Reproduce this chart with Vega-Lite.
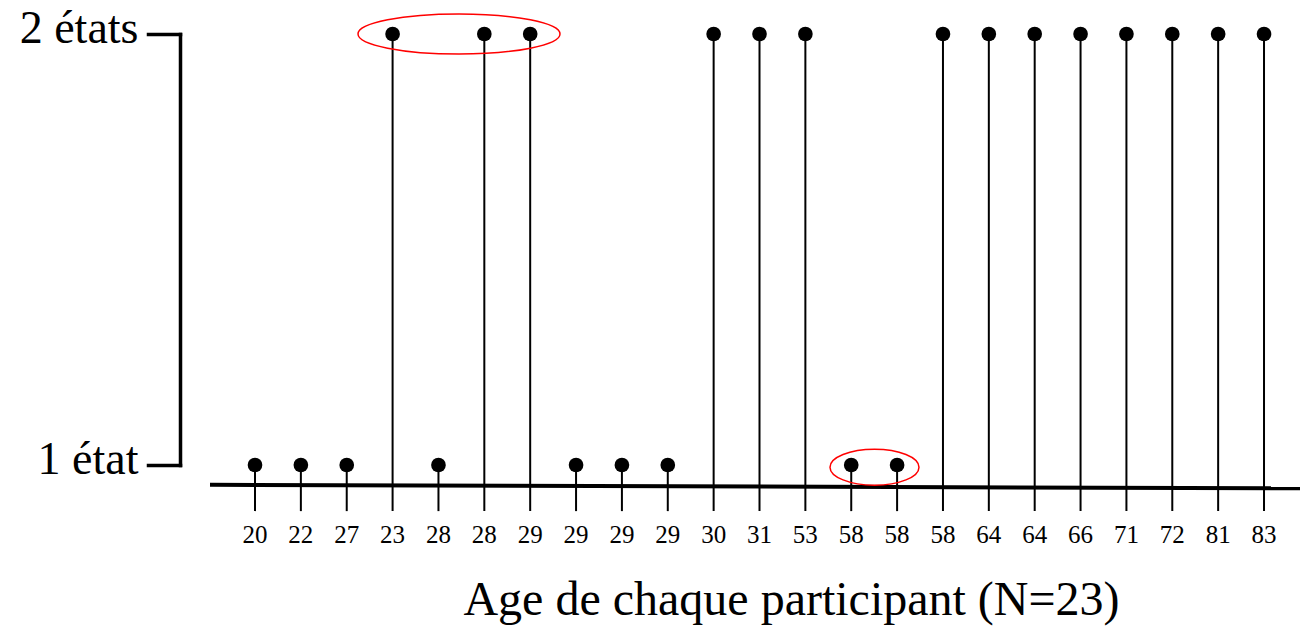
{
  "$schema": "https://vega.github.io/schema/vega-lite/v6.json",
  "autosize": {"type": "none"},
  "width": 1123,
  "height": 431,
  "padding": {"left": 180, "top": 34, "right": 0, "bottom": 162},
  "background": "white",
  "config": {"view": {"stroke": null}, "font": "Liberation Serif"},
  "datasets": {
    "participants": [
      {"idx": 1, "age": 20, "state": 1},
      {"idx": 2, "age": 22, "state": 1},
      {"idx": 3, "age": 27, "state": 1},
      {"idx": 4, "age": 23, "state": 2},
      {"idx": 5, "age": 28, "state": 1},
      {"idx": 6, "age": 28, "state": 2},
      {"idx": 7, "age": 29, "state": 2},
      {"idx": 8, "age": 29, "state": 1},
      {"idx": 9, "age": 29, "state": 1},
      {"idx": 10, "age": 29, "state": 1},
      {"idx": 11, "age": 30, "state": 2},
      {"idx": 12, "age": 31, "state": 2},
      {"idx": 13, "age": 53, "state": 2},
      {"idx": 14, "age": 58, "state": 1},
      {"idx": 15, "age": 58, "state": 1},
      {"idx": 16, "age": 58, "state": 2},
      {"idx": 17, "age": 64, "state": 2},
      {"idx": 18, "age": 64, "state": 2},
      {"idx": 19, "age": 66, "state": 2},
      {"idx": 20, "age": 71, "state": 2},
      {"idx": 21, "age": 72, "state": 2},
      {"idx": 22, "age": 81, "state": 2},
      {"idx": 23, "age": 83, "state": 2}
    ],
    "topGroup": [{"center": 5.448, "level": 2.0}],
    "bottomGroup": [{"center": 14.507, "level": 0.995}]
  },
  "layer": [
    {
      "data": {"name": "participants"},
      "mark": {"type": "rule", "color": "black", "strokeWidth": 2},
      "encoding": {
        "x": {
          "field": "idx", "type": "quantitative",
          "scale": {"domain": [-0.6353, 23.85], "nice": false, "zero": false},
          "axis": {
            "labels": false, "ticks": false, "domain": false, "grid": false,
            "title": "Age de chaque participant (N=23)",
            "titleFont": "Liberation Serif", "titleFontSize": 48, "titleFontWeight": "normal",
            "titleColor": "black", "titleBaseline": "alphabetic", "titleAlign": "center",
            "titleX": 611, "titleY": 149
          }
        },
        "y": {
          "field": "state", "type": "quantitative",
          "scale": {"domain": [1, 2], "nice": false, "zero": false},
          "axis": {
            "values": [1, 2],
            "labelExpr": "datum.value == 2 ? '2 états' : '1 état'",
            "labelFont": "Liberation Serif", "labelFontSize": 46, "labelColor": "black",
            "labelPadding": 10, "labelBaseline": "alphabetic", "labelOffset": 8,
            "tickSize": 32, "tickWidth": 3.5, "tickColor": "black",
            "tickCap": "square", "domainCap": "square",
            "domainWidth": 3.5, "domainColor": "black", "grid": false, "title": null,
            "encode": {"labels": {"update": {"dx": [{"test": "datum.value == 1", "value": -9}, {"value": 0}]}}}
          }
        },
        "y2": {"datum": 0.893}
      }
    },
    {
      "data": {"values": [{"x0": 0.019, "x1": 23.785, "y0": 0.954, "y1": 0.946}]},
      "mark": {"type": "rule", "color": "black", "strokeWidth": 4},
      "encoding": {
        "x": {"field": "x0", "type": "quantitative"},
        "x2": {"field": "x1"},
        "y": {"field": "y0", "type": "quantitative"},
        "y2": {"field": "y1"}
      }
    },
    {
      "data": {"name": "participants"},
      "mark": {"type": "point", "shape": "circle", "filled": true, "color": "black", "size": 215, "opacity": 1, "strokeWidth": 0},
      "encoding": {
        "x": {"field": "idx", "type": "quantitative"},
        "y": {"field": "state", "type": "quantitative"}
      }
    },
    {
      "data": {"name": "participants"},
      "mark": {"type": "text", "font": "Liberation Serif", "fontSize": 25, "color": "black", "baseline": "alphabetic", "align": "center"},
      "encoding": {
        "x": {"field": "idx", "type": "quantitative"},
        "y": {"datum": 0.82, "type": "quantitative"},
        "text": {"field": "age", "type": "nominal"}
      }
    },
    {
      "data": {"name": "topGroup"},
      "mark": {
        "type": "point", "filled": false, "color": "#ff0000", "strokeWidth": 1.5, "opacity": 1,
        "size": 40804,
        "shape": "M-1,0C-1,-0.1094,-0.5523,-0.198,0,-0.198C0.5523,-0.198,1,-0.1094,1,0C1,0.1094,0.5523,0.198,0,0.198C-0.5523,0.198,-1,0.1094,-1,0Z"
      },
      "encoding": {
        "x": {"field": "center", "type": "quantitative"},
        "y": {"field": "level", "type": "quantitative"}
      }
    },
    {
      "data": {"name": "bottomGroup"},
      "mark": {
        "type": "point", "filled": false, "color": "#ff0000", "strokeWidth": 1.5, "opacity": 1,
        "size": 7921,
        "shape": "M-1,0C-1,-0.2231,-0.5523,-0.404,0,-0.404C0.5523,-0.404,1,-0.2231,1,0C1,0.2231,0.5523,0.404,0,0.404C-0.5523,0.404,-1,0.2231,-1,0Z"
      },
      "encoding": {
        "x": {"field": "center", "type": "quantitative"},
        "y": {"field": "level", "type": "quantitative"}
      }
    }
  ]
}
